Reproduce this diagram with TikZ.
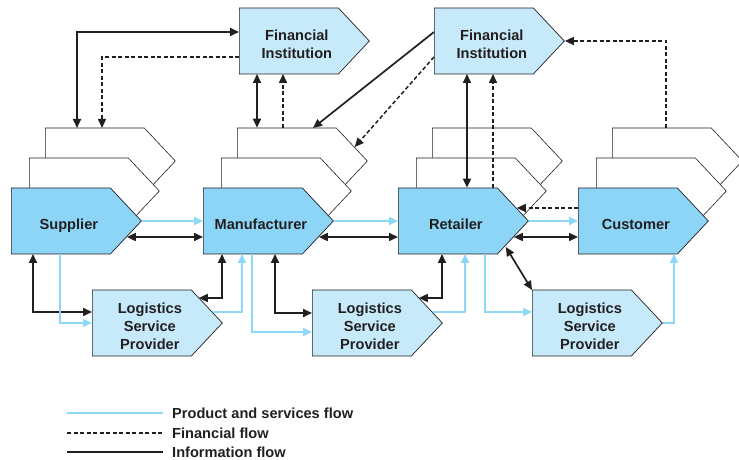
\documentclass[tikz,border=0pt]{standalone}
\usepackage{fontspec}
\setmainfont{Liberation Sans}
\usetikzlibrary{arrows.meta,positioning,shapes.symbols,calc}
\definecolor{mainblue}{HTML}{8DD5F6}
\definecolor{paleblue}{HTML}{C6EAF9}
\definecolor{flowblue}{HTML}{8DD7F7}
\definecolor{inkgray}{HTML}{231F20}

\begin{document}
\begin{tikzpicture}[x=1pt, y=1pt,
  >={Triangle[length=9pt, width=8pt]},
  pent/.style={signal, signal to=east, signal pointer angle=93.6,
    minimum width=130pt, minimum height=66pt, inner sep=0pt,
    anchor=west, draw=inkgray, line width=0.7pt},
  pentxt/.style={align=center, inner sep=0pt, text depth=0pt,
    xshift=8pt, yshift=-3pt,
    text=inkgray, font=\fontsize{14.6}{18}\selectfont\bfseries},
  actor/.style={pent, fill=mainblue, label={[pentxt]center:{#1}}},
  agent/.style={pent, fill=paleblue, label={[pentxt]center:{#1}}},
  ghost/.style={pent, fill=white, line width=0.6pt},
  prod/.style={draw=flowblue, line width=1.8pt, ->},
  info/.style={draw=inkgray, line width=1.7pt, <->},
  infoone/.style={draw=inkgray, line width=1.7pt, ->},
  fin/.style={draw=inkgray, line width=1.5pt, dash pattern=on 4pt off 2.5pt, ->},
  legtxt/.style={anchor=west, inner sep=0pt, text=inkgray,
    font=\fontsize{14.6}{18}\selectfont\bfseries},
  legline/.style={line width=1.1pt},
]
\useasboundingbox (0,0) rectangle (739,460);

% stacked copies behind the chain members
\foreach \nm/\xx in {sup/11, man/203, ret/398, cus/578}{
  \node[ghost] (\nm2) at (\xx+34,299) {};
  \node[ghost] (\nm1) at (\xx+18,269) {};
}

\node[actor={Supplier}]     (sup) at (11,239)  {};
\node[actor={Manufacturer}] (man) at (203,239) {};
\node[actor={Retailer}]     (ret) at (398,239) {};
\node[actor={Customer}]     (cus) at (578,239) {};

\node[agent={Financial\\Institution}] (fin1) at (239,419) {};
\node[agent={Financial\\Institution}] (fin2) at (434,419) {};

\node[agent={Logistics\\Service\\Provider}] (lsp1) at (92,137)  {};
\node[agent={Logistics\\Service\\Provider}] (lsp2) at (312,137) {};
\node[agent={Logistics\\Service\\Provider}] (lsp3) at (532,137) {};

% main chain
\draw[prod] (sup.east) -- (man.west);
\draw[info] ($(sup.east)+(-15,-16)$) -- ($(man.west)+(0,-16)$);
\draw[prod] (man.east) -- (ret.west);
\draw[info] ($(man.east)+(-15,-16)$) -- ($(ret.west)+(0,-16)$);
\draw[prod] (ret.east) -- (cus.west);
\draw[info] ($(ret.east)+(-15,-16)$) -- ($(cus.west)+(0,-16)$);
\draw[fin]  ($(cus.west)+(0,13)$) -- ($(ret.east)+(-12,13)$);

% logistics links
\draw[info] ($(sup.west)+(22,-33)$) |- ($(lsp1.west)+(0,11)$);
\draw[prod] ($(sup.west)+(49,-33)$) |- (lsp1.west);
\draw[prod] ($(lsp1.east)+(-10,11)$) -| ($(man.west)+(39,-33)$);
\draw[info] ($(lsp1.east)+(-24,25)$) -| ($(man.west)+(19,-33)$);

\draw[prod] ($(man.west)+(49,-33)$) |- ($(lsp2.west)+(0,-9)$);
\draw[info] ($(man.west)+(72,-33)$) |- ($(lsp2.west)+(0,10)$);
\draw[prod] ($(lsp2.east)+(-10,11)$) -| ($(ret.west)+(67,-33)$);
\draw[info] ($(lsp2.east)+(-24,25)$) -| ($(ret.west)+(44,-33)$);

\draw[prod] ($(ret.west)+(87,-33)$) |- ($(lsp3.west)+(0,11)$);
\draw[info] ($(ret.east)+(-23,-26)$) -- ($(lsp3.west)+(0,33)$);
\draw[prod] (lsp3.east) -| ($(cus.west)+(96,-33)$);

% financial institutions
\draw[info] ($(fin1.west)+(0,9)$) -| ($(sup2.west)+(32,33)$);
\draw[fin]  ($(fin1.west)+(0,-16)$) -| ($(sup2.west)+(57,33)$);
\coordinate (fa) at ($(fin1.west)+(18,-33)$);
\coordinate (fb) at ($(fin1.west)+(44,-33)$);
\draw[info] (fa) -- (fa |- man2.north);
\draw[fin]  (fb |- man2.north) -- (fb);

\draw[infoone] ($(fin2.west)+(0,9)$) -- ($(man2.west)+(76,33)$);
\draw[fin]  ($(fin2.west)+(0,-16)$) -- ($(man2.east)+(-13,14)$);
\coordinate (fc) at ($(fin2.west)+(33,-33)$);
\coordinate (fd) at ($(fin2.west)+(59,-33)$);
\draw[info] (fc) -- (fc |- ret.north);
\draw[fin]  (fd |- ret.north) -- (fd);
\draw[fin]  ($(cus2.west)+(54,33)$) |- (fin2.east);

% legend
\node[legtxt] (lgprod) at (172,47) {Product and services flow};
\node[legtxt] (lgfin)  at (172,27) {Financial flow};
\node[legtxt] (lginfo) at (172,8)  {Information flow};
\draw[legline, flowblue] ($(lgprod.west)+(-105,0)$) -- ($(lgprod.west)+(-9,0)$);
\draw[legline, inkgray, line width=1.3pt, dash pattern=on 4pt off 2.5pt]
  ($(lgfin.west)+(-105,0)$) -- ($(lgfin.west)+(-9,0)$);
\draw[legline, inkgray] ($(lginfo.west)+(-105,0)$) -- ($(lginfo.west)+(-9,0)$);
\end{tikzpicture}
\end{document}
